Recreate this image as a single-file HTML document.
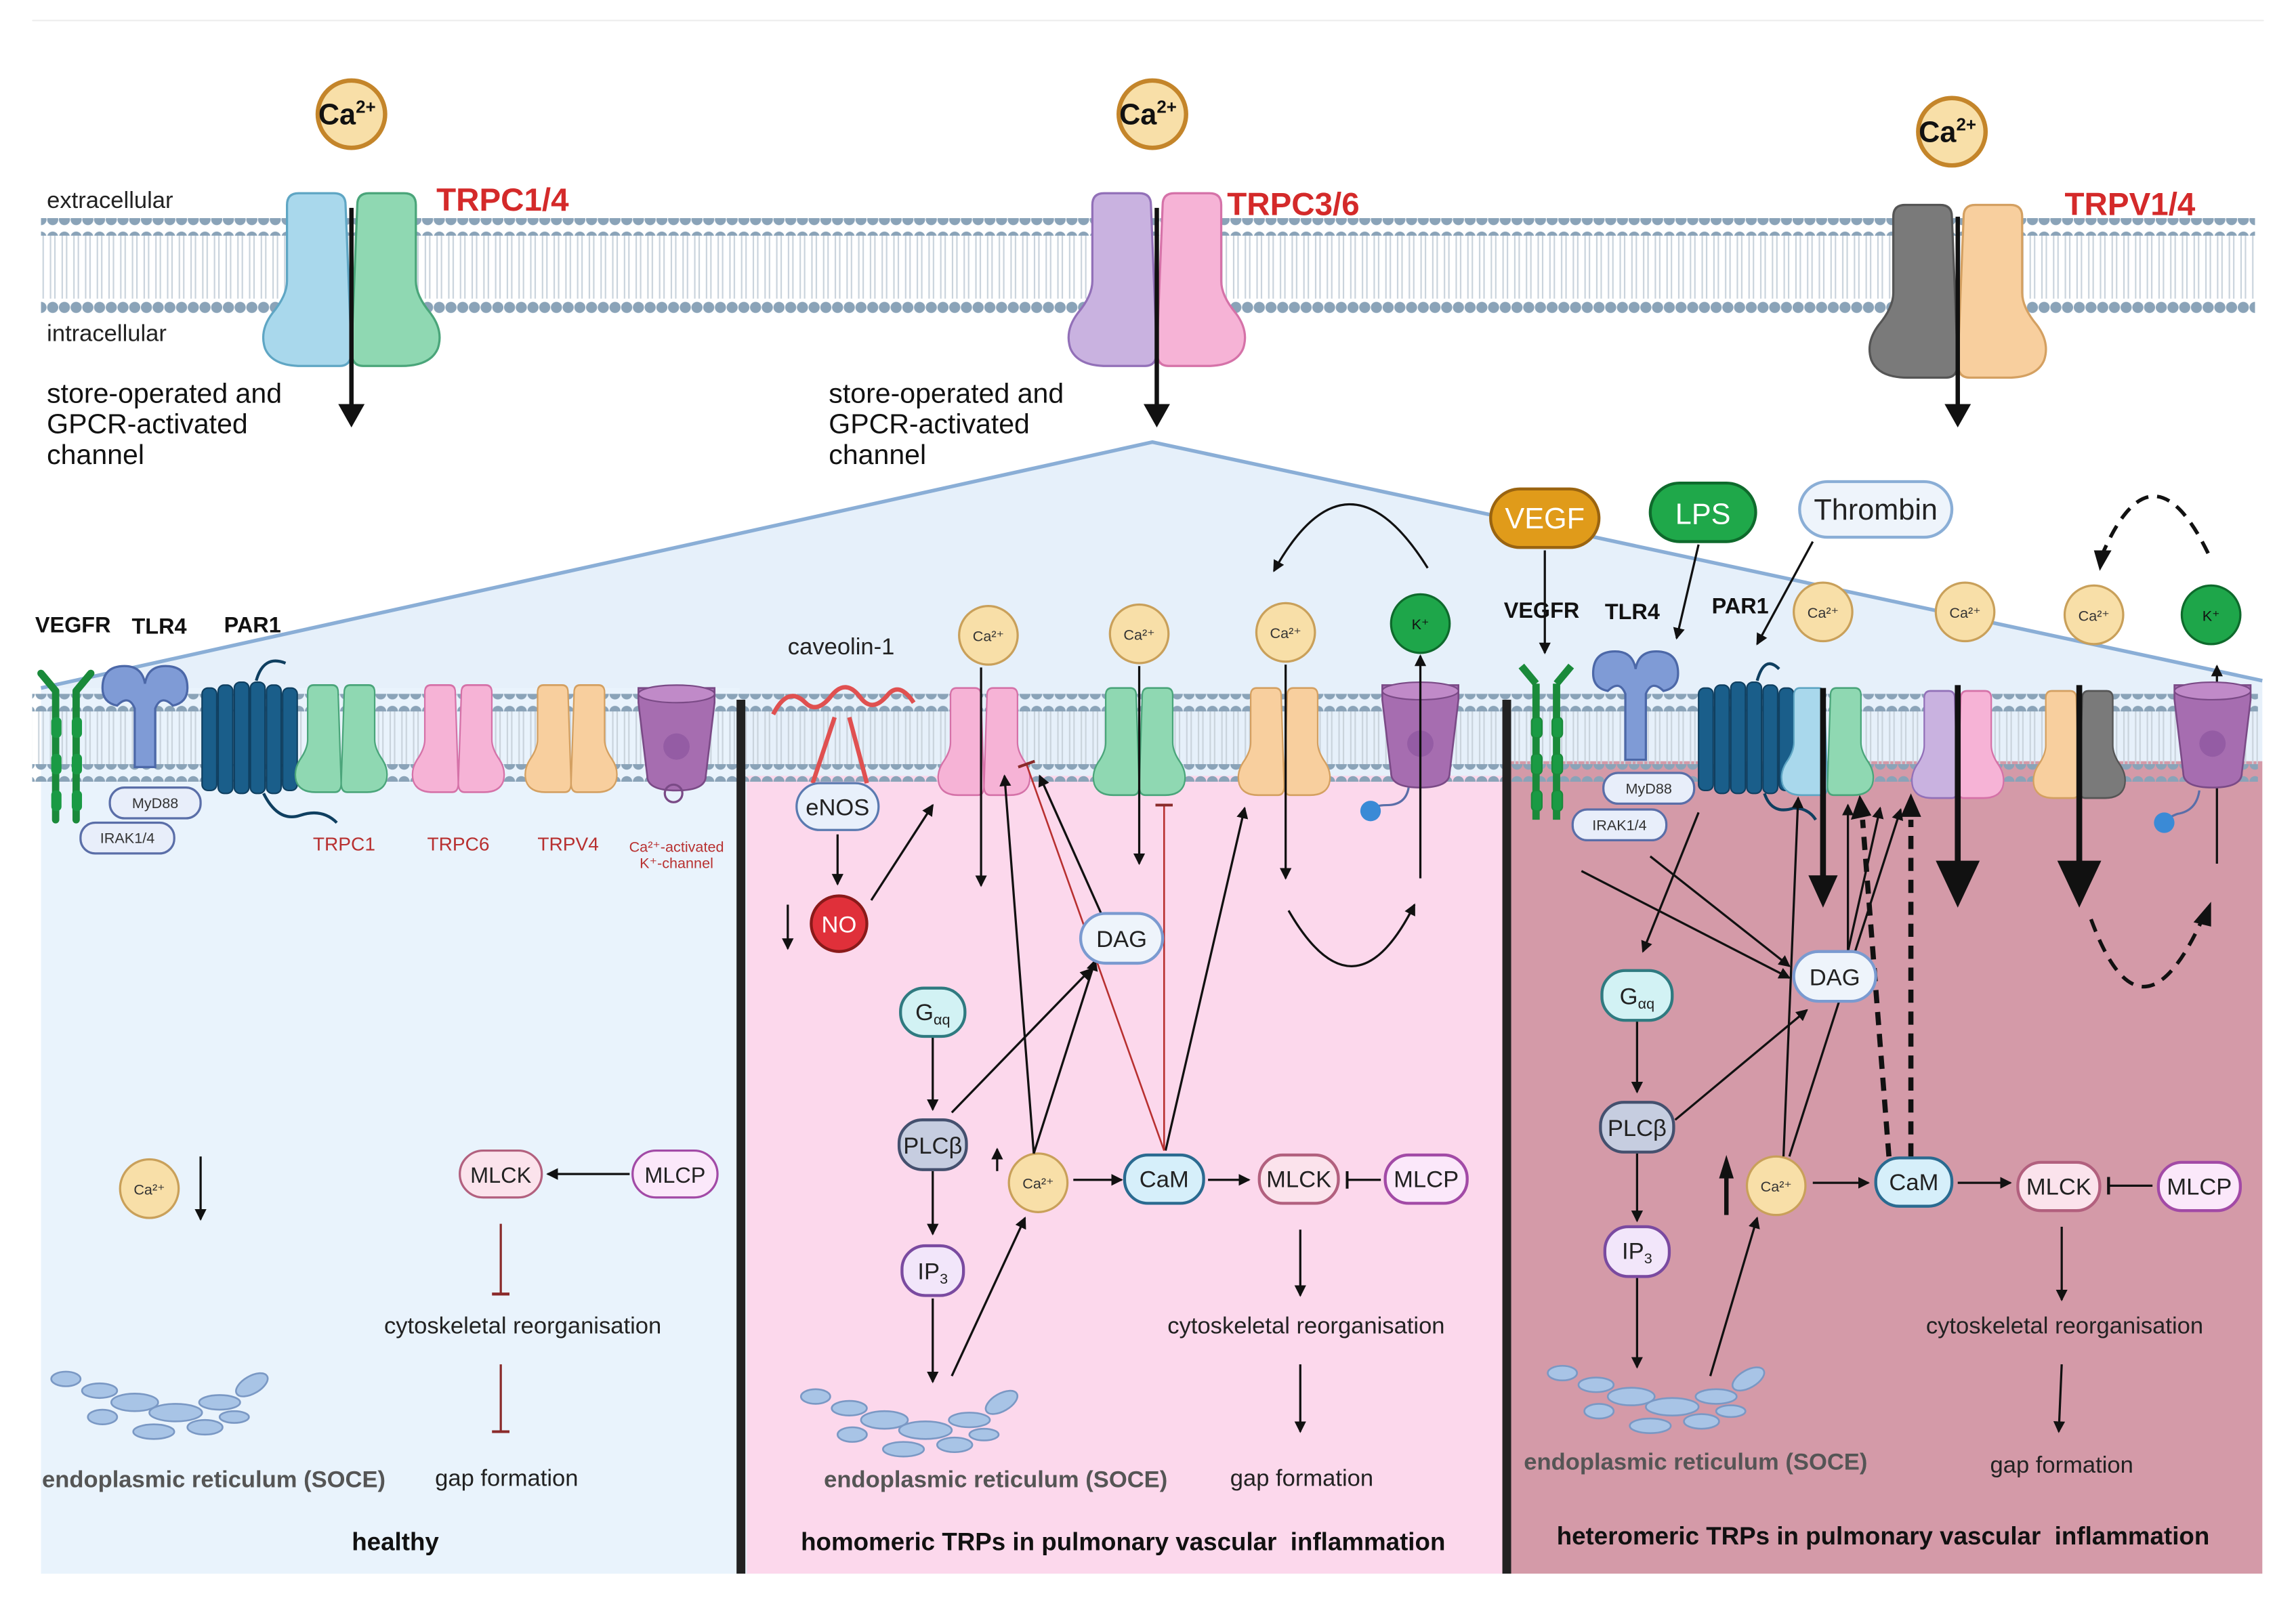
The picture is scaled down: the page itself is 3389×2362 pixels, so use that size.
<!DOCTYPE html>
<html><head><meta charset="utf-8"><style>
html,body{margin:0;padding:0;background:#fff}
svg{display:block}
text{font-family:"Liberation Sans",sans-serif}
</style></head><body>
<svg width="3389" height="2362" viewBox="0 0 1568 1093" preserveAspectRatio="none" xmlns="http://www.w3.org/2000/svg">
<defs>
<pattern id="bead" width="8" height="12" patternUnits="userSpaceOnUse"><circle cx="4" cy="6" r="3.8" fill="#8aa3b8"/></pattern>
<pattern id="tail" width="8" height="10" patternUnits="userSpaceOnUse"><line x1="2.5" y1="0" x2="2.5" y2="10" stroke="#c9d3dc" stroke-width="1"/><line x1="5.5" y1="0" x2="5.5" y2="10" stroke="#c9d3dc" stroke-width="1"/></pattern>
<marker id="ah" markerWidth="8" markerHeight="8" refX="7" refY="4" orient="auto" markerUnits="userSpaceOnUse"><path d="M0,0 L8,4 L0,8z" fill="#111"/></marker>
<marker id="tee" markerWidth="2" markerHeight="12" refX="1" refY="6" orient="auto" markerUnits="userSpaceOnUse"><rect x="0" y="0" width="2" height="12" fill="#8a2a2a"/></marker>
<marker id="teek" markerWidth="2" markerHeight="12" refX="1" refY="6" orient="auto" markerUnits="userSpaceOnUse"><rect x="0" y="0" width="2" height="12" fill="#111"/></marker>
<path id="half" d="M-4,8 Q-4,0 -12,0 H-36 Q-44,0 -44,8 V60 Q-44,70 -54,82 Q-63,94 -59,106 Q-54,118 -34,118 H-8 Q0,118 0,108 Z"/>
<g id="kch"><path d="M-26,0 H26 V10 L20,60 Q20,70 0,70 Q-20,70 -20,60 L-26,10Z" fill="#a66db0" stroke="#7a4a86" stroke-width="1.2"/><ellipse cx="0" cy="4" rx="26" ry="6" fill="#c08ac8" stroke="#7a4a86"/><circle cx="0" cy="40" r="9" fill="#8d56a0" opacity="0.7"/></g>
</defs>

<line x1="22" y1="14" x2="1546" y2="14" stroke="#eee"/>

<rect x="28" y="160" width="1512" height="44" fill="url(#tail)"/>
<rect x="28" y="149" width="1512" height="12" fill="url(#bead)"/>
<rect x="28" y="202" width="1512" height="12" fill="url(#bead)"/>
<text x="32" y="142" font-size="16" fill="#222">extracellular</text>
<text x="32" y="233" font-size="16" fill="#222">intracellular</text>

<g transform="translate(240,132)"><use href="#half" fill="#a9d8ec" stroke="#5fa6c4" stroke-width="1.5"/><use href="#half" transform="scale(-1,1)" fill="#8fd8b2" stroke="#4aa57a" stroke-width="1.5"/></g>
<g transform="translate(790,132)"><use href="#half" fill="#c9b2e0" stroke="#9270b8" stroke-width="1.5"/><use href="#half" transform="scale(-1,1)" fill="#f6b3d6" stroke="#d572a8" stroke-width="1.5"/></g>
<g transform="translate(1337,140)"><use href="#half" fill="#7a7a7a" stroke="#555" stroke-width="1.5"/><use href="#half" transform="scale(-1,1)" fill="#f8cf9e" stroke="#d4a061" stroke-width="1.5"/></g>
<text x="298" y="144" font-size="22" font-weight="bold" fill="#d42a2a">TRPC1/4</text>
<text x="838" y="147" font-size="22" font-weight="bold" fill="#d42a2a">TRPC3/6</text>
<text x="1410" y="147" font-size="22" font-weight="bold" fill="#d42a2a">TRPV1/4</text>
<g stroke="#111" stroke-width="3"><line x1="240" y1="142" x2="240" y2="278"/><line x1="790" y1="142" x2="790" y2="278"/><line x1="1337" y1="148" x2="1337" y2="278"/></g>
<g fill="#111"><path d="M231,276 h18 l-9,16z"/><path d="M781,276 h18 l-9,16z"/><path d="M1328,276 h18 l-9,16z"/></g>
<g fill="#f8dfa8" stroke="#c4852a" stroke-width="3"><circle cx="240" cy="78" r="23"/><circle cx="787" cy="78" r="23"/><circle cx="1333" cy="90" r="23"/></g>
<g font-size="20" font-weight="bold" fill="#111" text-anchor="middle"><text x="237" y="85">Ca<tspan font-size="12" dy="-8">2+</tspan></text><text x="784" y="85">Ca<tspan font-size="12" dy="-8">2+</tspan></text><text x="1330" y="97">Ca<tspan font-size="12" dy="-8">2+</tspan></text></g>
<g font-size="19" fill="#111"><text x="32" y="275">store-operated and</text><text x="32" y="296">GPCR-activated</text><text x="32" y="317">channel</text>
<text x="566" y="275">store-operated and</text><text x="566" y="296">GPCR-activated</text><text x="566" y="317">channel</text></g>

<polygon points="787,302 28,470 28,1075 1545,1075 1545,465" fill="#e6f0fa"/>
<rect x="28" y="470" width="477" height="605" fill="#e9f3fc"/>
<rect x="510" y="530" width="516" height="545" fill="#fcd8ec"/>
<rect x="1032" y="520" width="513" height="555" fill="#d49aa8"/>
<polyline points="28,470 787,302 1545,465" fill="none" stroke="#8aaed6" stroke-width="2.5"/>
<rect x="22" y="484" width="1520" height="40" fill="url(#tail)"/>
<rect x="22" y="474" width="1520" height="12" fill="url(#bead)"/>
<rect x="22" y="522" width="1520" height="12" fill="url(#bead)"/>
<rect x="503" y="478" width="6" height="597" fill="#222"/>
<rect x="1026" y="478" width="6" height="597" fill="#222"/>

<g font-size="15" font-weight="bold" fill="#111"><text x="24" y="432">VEGFR</text><text x="90" y="433">TLR4</text><text x="153" y="432">PAR1</text>
<text x="1027" y="422">VEGFR</text><text x="1096" y="423">TLR4</text><text x="1169" y="419">PAR1</text></g>
<g stroke="#1a8a3a" stroke-width="5" stroke-linecap="round" fill="none">
<path d="M28,460 L38,472 M62,460 L52,472 M38,472 V560 M52,472 V560"/></g>
<g fill="#1a9a44"><rect x="35" y="490" width="7" height="14" rx="3"/><rect x="49" y="490" width="7" height="14" rx="3"/><rect x="35" y="515" width="7" height="14" rx="3"/><rect x="49" y="515" width="7" height="14" rx="3"/><rect x="35" y="540" width="7" height="14" rx="3"/><rect x="49" y="540" width="7" height="14" rx="3"/></g>
<g transform="translate(1011,0)" fill="#1a9a44" stroke="#1a8a3a"><path d="M28,455 L38,467 M62,455 L52,467 M38,467 V560 M52,467 V560" stroke-width="5" fill="none"/><rect x="35" y="490" width="7" height="14" rx="3"/><rect x="49" y="490" width="7" height="14" rx="3"/><rect x="35" y="515" width="7" height="14" rx="3"/><rect x="49" y="515" width="7" height="14" rx="3"/><rect x="35" y="540" width="7" height="14" rx="3"/><rect x="49" y="540" width="7" height="14" rx="3"/></g>
<g fill="#7f9bd6" stroke="#4c68a8" stroke-width="1.5">
<path d="M70,470 q0,-15 15,-15 q12,0 14,12 q2,-12 14,-12 q15,0 15,15 q0,10 -10,12 q-8,-8 -12,2 v40 h-14 v-40 q-4,-10 -12,-2 q-10,-2 -10,-12z"/>
<path d="M1088,460 q0,-15 15,-15 q12,0 14,12 q2,-12 14,-12 q15,0 15,15 q0,10 -10,12 q-8,-8 -12,2 v45 h-14 v-45 q-4,-10 -12,-2 q-10,-2 -10,-12z"/></g>
<g fill="#1a5e8a" stroke="#0f3f60" stroke-width="1">
<rect x="138" y="470" width="10" height="70" rx="4"/><rect x="149" y="468" width="10" height="74" rx="4"/><rect x="160" y="466" width="10" height="76" rx="4"/><rect x="171" y="466" width="10" height="76" rx="4"/><rect x="182" y="468" width="10" height="74" rx="4"/><rect x="193" y="470" width="10" height="70" rx="4"/>
<rect x="1160" y="470" width="10" height="70" rx="4"/><rect x="1171" y="468" width="10" height="74" rx="4"/><rect x="1182" y="466" width="10" height="76" rx="4"/><rect x="1193" y="466" width="10" height="76" rx="4"/><rect x="1204" y="468" width="10" height="74" rx="4"/><rect x="1215" y="470" width="10" height="70" rx="4"/></g>
<path d="M175,465 q5,-18 20,-12" stroke="#0f3f60" stroke-width="2" fill="none"/>
<path d="M180,542 q10,20 25,15 q15,-5 25,5" stroke="#0f3f60" stroke-width="2" fill="none"/>
<path d="M1200,465 q5,-18 15,-8" stroke="#0f3f60" stroke-width="2" fill="none"/>
<path d="M1205,542 q5,15 20,10 q10,0 15,8" stroke="#0f3f60" stroke-width="2" fill="none"/>
<g fill="#e8eefa" stroke="#5a6ea8" stroke-width="1.5"><rect x="75" y="538" width="62" height="21" rx="10"/><rect x="55" y="562" width="64" height="21" rx="10"/>
<rect x="1095" y="528" width="62" height="21" rx="10"/><rect x="1074" y="553" width="64" height="21" rx="10"/></g>
<g font-size="10" fill="#333" text-anchor="middle"><text x="106" y="552">MyD88</text><text x="87" y="576">IRAK1/4</text><text x="1126" y="542">MyD88</text><text x="1106" y="567">IRAK1/4</text></g>

<g transform="translate(233,468) scale(0.52,0.62)"><use href="#half" fill="#8fd8b2" stroke="#4aa57a" stroke-width="2"/><use href="#half" transform="scale(-1,1)" fill="#8fd8b2" stroke="#4aa57a" stroke-width="2"/></g>
<g transform="translate(313,468) scale(0.52,0.62)"><use href="#half" fill="#f6b3d6" stroke="#d572a8" stroke-width="2"/><use href="#half" transform="scale(-1,1)" fill="#f6b3d6" stroke="#d572a8" stroke-width="2"/></g>
<g transform="translate(390,468) scale(0.52,0.62)"><use href="#half" fill="#f8cf9e" stroke="#d4a061" stroke-width="2"/><use href="#half" transform="scale(-1,1)" fill="#f8cf9e" stroke="#d4a061" stroke-width="2"/></g>
<use href="#kch" transform="translate(462,470)"/>
<circle cx="460" cy="542" r="6" fill="none" stroke="#7a4a86" stroke-width="1.5"/>
<g font-size="13" fill="#b83030" text-anchor="middle"><text x="235" y="581">TRPC1</text><text x="313" y="581">TRPC6</text><text x="388" y="581">TRPV4</text><text x="462" y="582" font-size="10">Ca²⁺-activated</text><text x="462" y="593" font-size="10">K⁺-channel</text></g>

<g fill="#f8dfa8" stroke="#c9a05a" stroke-width="1.5">
<circle cx="102" cy="812" r="20"/><circle cx="675" cy="434" r="20"/><circle cx="778" cy="433" r="20"/><circle cx="878" cy="432" r="20"/><circle cx="709" cy="808" r="20"/>
<circle cx="1245" cy="418" r="20"/><circle cx="1342" cy="418" r="20"/><circle cx="1430" cy="420" r="20"/><circle cx="1213" cy="810" r="20"/></g>
<g font-size="10" fill="#333" text-anchor="middle"><text x="102" y="816">Ca²⁺</text><text x="675" y="438">Ca²⁺</text><text x="778" y="437">Ca²⁺</text><text x="878" y="436">Ca²⁺</text><text x="709" y="812">Ca²⁺</text><text x="1245" y="422">Ca²⁺</text><text x="1342" y="422">Ca²⁺</text><text x="1430" y="424">Ca²⁺</text><text x="1213" y="814">Ca²⁺</text></g>
<g fill="#1ea64a" stroke="#0e6a2c" stroke-width="1.5"><circle cx="970" cy="426" r="20"/><circle cx="1510" cy="420" r="20"/></g>
<g font-size="10" fill="#111" text-anchor="middle"><text x="970" y="430">K⁺</text><text x="1510" y="424">K⁺</text></g>

<line x1="137" y1="790" x2="137" y2="833" stroke="#111" stroke-width="1.5" marker-end="url(#ah)"/>
<g stroke-width="1.5"><rect x="314" y="786" width="56" height="32" rx="16" fill="#fbe3ec" stroke="#b2607e"/><rect x="432" y="786" width="58" height="32" rx="16" fill="#fbe8fa" stroke="#a24aa6"/></g>
<g font-size="15" fill="#222" text-anchor="middle"><text x="342" y="808">MLCK</text><text x="461" y="808">MLCP</text></g>
<line x1="430" y1="802" x2="374" y2="802" stroke="#111" stroke-width="1.5" marker-end="url(#ah)"/>
<line x1="342" y1="836" x2="342" y2="884" stroke="#8a2a2a" stroke-width="1.5" marker-end="url(#tee)"/>
<line x1="342" y1="932" x2="342" y2="978" stroke="#8a2a2a" stroke-width="1.5" marker-end="url(#tee)"/>
<g font-size="16" fill="#222" text-anchor="middle"><text x="357" y="911">cytoskeletal reorganisation</text><text x="346" y="1015">gap formation</text>
<text x="892" y="911">cytoskeletal reorganisation</text><text x="889" y="1015">gap formation</text>
<text x="1410" y="911">cytoskeletal reorganisation</text><text x="1408" y="1006">gap formation</text></g>
<g font-size="16" font-weight="bold" fill="#555" text-anchor="middle"><text x="146" y="1016">endoplasmic reticulum (SOCE)</text><text x="680" y="1016">endoplasmic reticulum (SOCE)</text><text x="1158" y="1004">endoplasmic reticulum (SOCE)</text></g>
<g font-size="17" font-weight="bold" fill="#111" text-anchor="middle"><text x="270" y="1059">healthy</text><text x="767" y="1059" xml:space="preserve">homomeric TRPs in pulmonary vascular  inflammation</text><text x="1286" y="1055" xml:space="preserve">heteromeric TRPs in pulmonary vascular  inflammation</text></g>

<g id="er" fill="#a8c4e6" stroke="#7a98c4" stroke-width="1.2">
<ellipse cx="45" cy="942" rx="10" ry="5"/><ellipse cx="68" cy="950" rx="12" ry="5"/><ellipse cx="92" cy="958" rx="16" ry="6"/><ellipse cx="120" cy="965" rx="18" ry="6"/><ellipse cx="150" cy="958" rx="14" ry="5"/><ellipse cx="172" cy="946" rx="12" ry="6" transform="rotate(-30 172 946)"/><ellipse cx="70" cy="968" rx="10" ry="5"/><ellipse cx="105" cy="978" rx="14" ry="5"/><ellipse cx="140" cy="975" rx="12" ry="5"/><ellipse cx="160" cy="968" rx="10" ry="4"/></g>
<use href="#er" transform="translate(512,12)"/>
<use href="#er" transform="translate(1022,-4)"/>

<text x="538" y="447" font-size="16" fill="#222">caveolin-1</text>
<path d="M528,488 q10,-20 22,-8 q8,8 18,-5 q10,-12 20,2 q8,10 18,-2 q8,-10 18,5 M570,490 L555,535 M580,490 L592,535" stroke="#e05050" stroke-width="3" fill="none"/>
<rect x="544" y="535" width="56" height="32" rx="16" fill="#e8f0fb" stroke="#5a7ab0" stroke-width="1.5"/><text x="572" y="557" font-size="16" text-anchor="middle" fill="#222">eNOS</text>
<line x1="572" y1="570" x2="572" y2="604" stroke="#111" stroke-width="1.5" marker-end="url(#ah)"/>
<circle cx="573" cy="631" r="19" fill="#e0303a" stroke="#8a1a1a" stroke-width="2"/><text x="573" y="637" font-size="16" fill="#fff" text-anchor="middle">NO</text>
<line x1="538" y1="618" x2="538" y2="648" stroke="#111" stroke-width="1.5" marker-end="url(#ah)"/>
<line x1="595" y1="615" x2="637" y2="550" stroke="#111" stroke-width="1.5" marker-end="url(#ah)"/>
<g transform="translate(672,470) scale(0.52,0.62)"><use href="#half" fill="#f6b3d6" stroke="#d572a8" stroke-width="2"/><use href="#half" transform="scale(-1,1)" fill="#f6b3d6" stroke="#d572a8" stroke-width="2"/></g>
<g transform="translate(778,470) scale(0.52,0.62)"><use href="#half" fill="#8fd8b2" stroke="#4aa57a" stroke-width="2"/><use href="#half" transform="scale(-1,1)" fill="#8fd8b2" stroke="#4aa57a" stroke-width="2"/></g>
<g transform="translate(877,470) scale(0.52,0.62)"><use href="#half" fill="#f8cf9e" stroke="#d4a061" stroke-width="2"/><use href="#half" transform="scale(-1,1)" fill="#f8cf9e" stroke="#d4a061" stroke-width="2"/></g>
<use href="#kch" transform="translate(970,468)"/>
<path d="M962,538 q-2,12 -15,12 q-10,0 -12,5" stroke="#5a6ea8" stroke-width="1.5" fill="none"/><circle cx="936" cy="554" r="7" fill="#3a8ad6"/>
<g stroke="#111" stroke-width="1.5" fill="none" marker-end="url(#ah)">
<line x1="670" y1="456" x2="670" y2="605"/><line x1="778" y1="455" x2="778" y2="590"/><line x1="878" y1="454" x2="878" y2="600"/><line x1="970" y1="600" x2="970" y2="448"/>
<path d="M975,388 Q920,300 870,390"/><path d="M880,622 Q925,700 966,618"/>
<line x1="637" y1="707" x2="637" y2="758"/><line x1="637" y1="800" x2="637" y2="843"/><line x1="637" y1="887" x2="637" y2="944"/>
<line x1="650" y1="760" x2="745" y2="662"/><line x1="650" y1="940" x2="700" y2="832"/>
<line x1="706" y1="788" x2="686" y2="530"/><line x1="706" y1="788" x2="748" y2="656"/><line x1="796" y1="786" x2="850" y2="552"/>
<line x1="752" y1="624" x2="710" y2="530"/>
<line x1="681" y1="800" x2="681" y2="785"/>
<line x1="733" y1="806" x2="766" y2="806"/><line x1="825" y1="806" x2="853" y2="806"/>
<line x1="888" y1="840" x2="888" y2="885"/><line x1="888" y1="932" x2="888" y2="978"/>
</g>
<line x1="795" y1="786" x2="701" y2="522" stroke="#b83030" stroke-width="1.2" marker-end="url(#tee)"/>
<line x1="795" y1="786" x2="795" y2="550" stroke="#b83030" stroke-width="1.2" marker-end="url(#tee)"/>
<line x1="943" y1="806" x2="920" y2="806" stroke="#111" stroke-width="1.5" marker-end="url(#teek)"/>
<g stroke-width="2">
<rect x="738" y="624" width="56" height="34" rx="17" fill="#eef4fb" stroke="#7a9ad0"/>
<rect x="615" y="675" width="44" height="33" rx="16" fill="#d2f2f4" stroke="#2f7a80"/>
<rect x="614" y="765" width="46" height="34" rx="16" fill="#c6cde0" stroke="#44506e"/>
<rect x="616" y="851" width="42" height="34" rx="16" fill="#f2e6fa" stroke="#7a4aa0"/>
<rect x="768" y="789" width="54" height="33" rx="16" fill="#d6effa" stroke="#2a6a90"/>
<rect x="860" y="789" width="54" height="33" rx="16" fill="#fbe3ec" stroke="#b2607e"/>
<rect x="946" y="789" width="56" height="33" rx="16" fill="#fbe8fa" stroke="#a24aa6"/>
</g>
<g font-size="16" fill="#222" text-anchor="middle"><text x="766" y="647">DAG</text><text x="637" y="697">G<tspan font-size="10" dy="3">αq</tspan></text><text x="637" y="788">PLCβ</text><text x="637" y="874">IP<tspan font-size="10" dy="3">3</tspan></text><text x="795" y="811">CaM</text><text x="887" y="811">MLCK</text><text x="974" y="811">MLCP</text></g>

<rect x="1018" y="334" width="74" height="40" rx="20" fill="#e09b1a" stroke="#9a6410" stroke-width="2"/><text x="1055" y="361" font-size="20" fill="#fff" text-anchor="middle">VEGF</text>
<rect x="1127" y="330" width="72" height="40" rx="20" fill="#1fa84a" stroke="#0e6a2c" stroke-width="2"/><text x="1163" y="358" font-size="20" fill="#fff" text-anchor="middle">LPS</text>
<rect x="1229" y="329" width="104" height="38" rx="19" fill="#eef4fb" stroke="#8aaed6" stroke-width="2"/><text x="1281" y="355" font-size="20" fill="#222" text-anchor="middle">Thrombin</text>
<g stroke="#111" stroke-width="1.5" fill="none" marker-end="url(#ah)">
<line x1="1055" y1="376" x2="1055" y2="446"/><line x1="1160" y1="372" x2="1145" y2="436"/><line x1="1238" y1="370" x2="1200" y2="440"/>
<line x1="1080" y1="595" x2="1222" y2="668"/><line x1="1127" y1="585" x2="1222" y2="660"/><line x1="1160" y1="555" x2="1122" y2="650"/>
<line x1="1118" y1="697" x2="1118" y2="746"/><line x1="1118" y1="788" x2="1118" y2="834"/><line x1="1118" y1="873" x2="1118" y2="934"/>
<line x1="1144" y1="765" x2="1234" y2="690"/><line x1="1168" y1="940" x2="1200" y2="832"/>
<line x1="1218" y1="790" x2="1228" y2="545"/><line x1="1222" y1="790" x2="1298" y2="553"/><line x1="1262" y1="650" x2="1284" y2="552"/><line x1="1262" y1="650" x2="1262" y2="550"/>
<line x1="1238" y1="808" x2="1276" y2="808"/><line x1="1337" y1="808" x2="1373" y2="808"/><line x1="1408" y1="838" x2="1408" y2="888"/><line x1="1408" y1="932" x2="1406" y2="978"/>
<line x1="1514" y1="590" x2="1514" y2="455"/>
</g>
<g stroke="#111" stroke-width="3.5" fill="none" stroke-dasharray="9,6"><line x1="1305" y1="790" x2="1305" y2="560"/><line x1="1290" y1="790" x2="1272" y2="560"/>
<path d="M1428,628 Q1462,720 1504,628" stroke-width="2.5"/><path d="M1508,378 Q1470,300 1436,378" stroke-width="2.5"/></g>
<g fill="#111"><path d="M1298,558 h14 l-7,-16z"/><path d="M1264,560 l14,-3 l-8,-14z"/><path d="M1498,630 l12,3 l0,-17z"/><path d="M1430,376 l12,0 l-8,14z"/><path d="M1174,805 h10 l-5,-16z"/></g>
<line x1="1179" y1="800" x2="1179" y2="830" stroke="#111" stroke-width="3"/>
<g transform="translate(1248,470) scale(0.52,0.62)"><use href="#half" fill="#a9d8ec" stroke="#5fa6c4" stroke-width="2"/><use href="#half" transform="scale(-1,1)" fill="#8fd8b2" stroke="#4aa57a" stroke-width="2"/></g>
<g transform="translate(1337,472) scale(0.52,0.62)"><use href="#half" fill="#c9b2e0" stroke="#9270b8" stroke-width="2"/><use href="#half" transform="scale(-1,1)" fill="#f6b3d6" stroke="#d572a8" stroke-width="2"/></g>
<g transform="translate(1420,472) scale(0.52,0.62)"><use href="#half" fill="#f8cf9e" stroke="#d4a061" stroke-width="2"/><use href="#half" transform="scale(-1,1)" fill="#7a7a7a" stroke="#555" stroke-width="2"/></g>
<use href="#kch" transform="translate(1511,468)"/>
<path d="M1502,540 q-2,14 -15,16 q-6,2 -8,6" stroke="#5a6ea8" stroke-width="1.5" fill="none"/><circle cx="1478" cy="562" r="7" fill="#3a8ad6"/>
<g stroke="#111" stroke-width="4"><line x1="1245" y1="470" x2="1245" y2="600"/><line x1="1337" y1="468" x2="1337" y2="590"/><line x1="1420" y1="468" x2="1420" y2="590"/></g>
<g fill="#111"><path d="M1235,598 h20 l-10,22z"/><path d="M1322,588 h30 l-15,32z"/><path d="M1405,588 h30 l-15,32z"/></g>
<g stroke-width="2">
<rect x="1225" y="650" width="56" height="34" rx="17" fill="#eef4fb" stroke="#7a9ad0"/>
<rect x="1094" y="663" width="48" height="34" rx="16" fill="#d2f2f4" stroke="#2f7a80"/>
<rect x="1093" y="753" width="50" height="34" rx="16" fill="#c6cde0" stroke="#44506e"/>
<rect x="1096" y="838" width="44" height="34" rx="16" fill="#f2e6fa" stroke="#7a4aa0"/>
<rect x="1281" y="791" width="52" height="33" rx="16" fill="#d6effa" stroke="#2a6a90"/>
<rect x="1378" y="794" width="56" height="33" rx="16" fill="#fbe3ec" stroke="#b2607e"/>
<rect x="1474" y="794" width="56" height="33" rx="16" fill="#fbe8fa" stroke="#a24aa6"/>
</g>
<line x1="1470" y1="810" x2="1440" y2="810" stroke="#111" stroke-width="1.5" marker-end="url(#teek)"/>
<g font-size="16" fill="#222" text-anchor="middle"><text x="1253" y="673">DAG</text><text x="1118" y="686">G<tspan font-size="10" dy="3">αq</tspan></text><text x="1118" y="776">PLCβ</text><text x="1118" y="860">IP<tspan font-size="10" dy="3">3</tspan></text><text x="1307" y="813">CaM</text><text x="1406" y="816">MLCK</text><text x="1502" y="816">MLCP</text></g>
</svg>
</body></html>
